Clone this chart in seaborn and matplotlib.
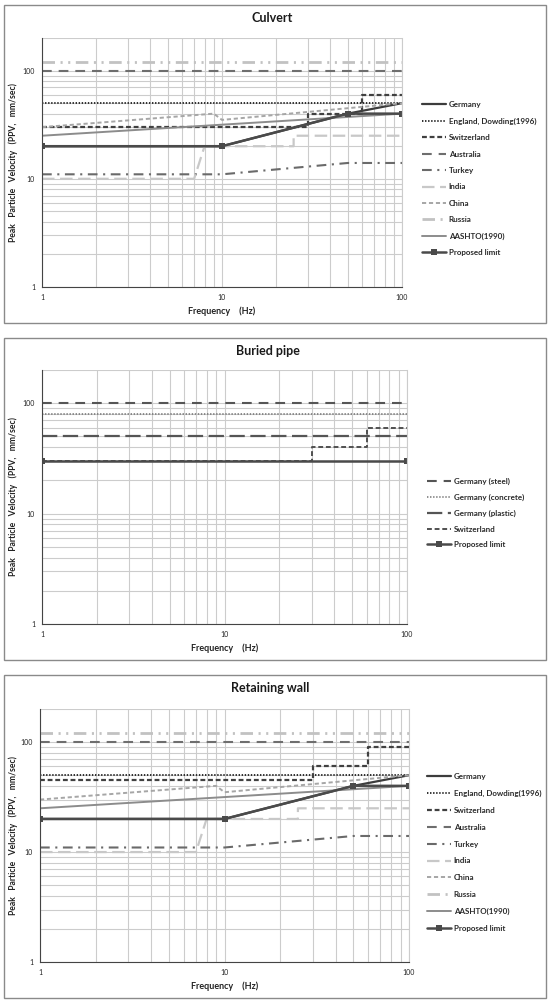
import numpy as np
import pandas as pd
import matplotlib
matplotlib.use("Agg")
import matplotlib.pyplot as plt
import matplotlib.ticker as mticker
from matplotlib.patches import Rectangle
import seaborn as sns

# ---- data (frequency in Hz, PPV in mm/sec) ----
freq_germany = [1, 10, 50, 100]
ppv_germany = [20, 20, 40, 50]

freq_flat = [1, 100]
ppv_england = [50, 50]
ppv_australia = [100, 100]
ppv_russia = [120, 120]

freq_swiss = [1, 30, 30, 60, 60, 100]
ppv_swiss_culvert = [30, 30, 40, 40, 60, 60]
ppv_swiss_pipe = [30, 30, 40, 40, 60, 60]
ppv_swiss_wall = [45, 45, 60, 60, 90, 90]

freq_turkey = [1, 10, 50, 100]
ppv_turkey = [11, 11, 14, 14]

freq_india = [1, 7, 8, 25, 25, 100]
ppv_india = [10, 10, 20, 20, 25, 25]

freq_china = [1, 9, 10, 100]
ppv_china = [30, 40, 35, 50]

freq_aashto = [1, 100]
ppv_aashto = [25, 40]

freq_proposed = [1, 10, 50, 100]
ppv_proposed = [20, 20, 40, 40]

ppv_pipe_steel = [100, 100]
ppv_pipe_concrete = [80, 80]
ppv_pipe_plastic = [50, 50]
freq_pipe_proposed = [1, 100]
ppv_pipe_proposed = [30, 30]

sns.set_style("white")
plt.rcParams["font.family"] = ["Lato", "DejaVu Sans"]
plt.rcParams["lines.scale_dashes"] = False

W, H = 549, 1001
fig = plt.figure(figsize=(W / 100, H / 100), dpi=100)


def fx(px):
    return px / W


def fy(px):
    return 1 - px / H


def line(ax, x, y, label, color, lw, ls, **kw):
    sns.lineplot(x=x, y=y, ax=ax, color=color, linewidth=lw, linestyle=ls,
                 label=label, sort=False, estimator=None, **kw)


def setup_panel(top, bottom, left, right, box_top, box_bottom, title, title_x):
    fig.add_artist(Rectangle((fx(3.5), fy(box_bottom)), fx(546) - fx(3.5),
                             fy(box_top) - fy(box_bottom), transform=fig.transFigure,
                             fill=False, edgecolor="#8a8a8a", linewidth=1.0))
    fig.text(fx(title_x), fy(box_top + 13), title, ha="center", va="center",
             fontsize=9, fontweight="bold", color="#1a1a1a")
    ax = fig.add_axes([fx(left), fy(bottom), fx(right) - fx(left), fy(top) - fy(bottom)])
    ax.set_xscale("log")
    ax.set_yscale("log")
    ax.set_xlim(1, 100)
    ax.set_ylim(1, 200)
    ax.xaxis.set_major_locator(mticker.FixedLocator([1, 10, 100]))
    ax.yaxis.set_major_locator(mticker.FixedLocator([1, 10, 100]))
    ax.xaxis.set_major_formatter(mticker.FormatStrFormatter("%g"))
    ax.yaxis.set_major_formatter(mticker.FormatStrFormatter("%g"))
    ax.xaxis.set_minor_locator(mticker.LogLocator(base=10, subs=np.arange(2, 10)))
    ax.yaxis.set_minor_locator(mticker.LogLocator(base=10, subs=np.arange(2, 10)))
    ax.xaxis.set_minor_formatter(mticker.NullFormatter())
    ax.yaxis.set_minor_formatter(mticker.NullFormatter())
    ax.grid(True, which="both", color="#cccccc", linewidth=0.8)
    ax.tick_params(which="major", labelsize=5, length=3, width=0.8, color="#444444",
                   pad=2, labelcolor="#222222")
    ax.tick_params(which="minor", length=0)
    ax.spines["top"].set_visible(False)
    ax.spines["right"].set_color("#cccccc")
    ax.spines["left"].set_color("#444444")
    ax.spines["bottom"].set_color("#444444")
    ax.set_xlabel("Frequency    (Hz)", fontsize=6.5, fontweight="bold", color="#222222",
                  labelpad=4)
    ax.set_ylabel("Peak   Particle   Velocity   (PPV,   mm/sec)", fontsize=6.2,
                  fontweight="bold", color="#222222")
    ax.yaxis.set_label_coords((18 - left) / (right - left), 0.5)
    return ax


def draw_full(ax, ppv_swiss):
    line(ax, freq_germany, ppv_germany, "Germany", "#3c3c3c", 1.6, "-")
    line(ax, freq_flat, ppv_england, "England, Dowding(1996)", "#2e2e2e", 1.4, (0, (1.0, 1.2)))
    line(ax, freq_swiss, ppv_swiss, "Switzerland", "#404040", 1.6, (0, (3.5, 2.0)))
    line(ax, freq_flat, ppv_australia, "Australia", "#6e6e6e", 1.5, (0, (7, 5)))
    line(ax, freq_turkey, ppv_turkey, "Turkey", "#6a6a6a", 1.5, (0, (7, 4, 1.5, 4)))
    line(ax, freq_india, ppv_india, "India", "#c8c8c8", 1.6, (0, (9, 4)))
    line(ax, freq_china, ppv_china, "China", "#a6a6a6", 1.4, (0, (3, 2)))
    line(ax, freq_flat, ppv_russia, "Russia", "#c2c2c2", 2.0, (0, (9, 4, 1.5, 4, 1.5, 4)))
    line(ax, freq_aashto, ppv_aashto, "AASHTO(1990)", "#8c8c8c", 1.4, "-")
    line(ax, freq_proposed, ppv_proposed, "Proposed limit", "#4a4a4a", 1.8, "-",
         marker="s", markersize=4, markeredgewidth=0)


def put_legend(ax, x_px, y_px, spacing):
    leg = ax.legend(loc="upper left", bbox_to_anchor=(fx(x_px), fy(y_px)),
                    bbox_transform=fig.transFigure, frameon=False, fontsize=5.8,
                    handlelength=3.0, handletextpad=0.3, labelspacing=spacing,
                    borderpad=0, borderaxespad=0)
    for t in leg.get_texts():
        t.set_fontweight("bold")
        t.set_color("#2a2a2a")


# ---- Culvert ----
ax1 = setup_panel(38, 287, 42, 402, 5, 323, "Culvert", 272)
draw_full(ax1, ppv_swiss_culvert)
put_legend(ax1, 422, 101, 1.17)

# ---- Buried pipe ----
ax2 = setup_panel(370, 624, 42, 407, 338, 660, "Buried pipe", 268)
line(ax2, freq_flat, ppv_pipe_steel, "Germany (steel)", "#555555", 1.5, (0, (7, 5)))
line(ax2, freq_flat, ppv_pipe_concrete, "Germany (concrete)", "#707070", 1.1, (0, (1.0, 1.2)))
line(ax2, freq_flat, ppv_pipe_plastic, "Germany (plastic)", "#555555", 1.6, (0, (11, 4)))
line(ax2, freq_swiss, ppv_swiss_pipe, "Switzerland", "#505050", 1.4, (0, (3.5, 2.0)))
line(ax2, freq_pipe_proposed, ppv_pipe_proposed, "Proposed limit", "#4a4a4a", 1.8, "-",
     marker="s", markersize=4, markeredgewidth=0)
put_legend(ax2, 427, 478, 1.07)

# ---- Retaining wall ----
ax3 = setup_panel(709, 962, 40, 409, 675, 998, "Retaining wall", 270)
draw_full(ax3, ppv_swiss_wall)
put_legend(ax3, 427, 773, 1.22)

fig.savefig("out.png", dpi=100)
